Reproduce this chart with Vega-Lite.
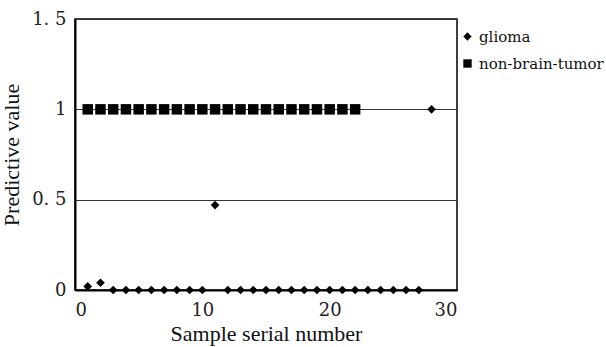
{
  "$schema": "https://vega.github.io/schema/vega-lite/v6.json",
  "width": 382,
  "height": 271,
  "autosize": {"type": "none"},
  "padding": {"left": 75, "top": 19, "right": 149, "bottom": 57},
  "background": "white",
  "config": {
    "font": "Liberation Serif",
    "view": {"stroke": "black", "strokeWidth": 1.5},
    "axis": {"titleFontWeight": "normal"}
  },
  "data": {
    "values": [
      {"sample": 1, "value": 1, "group": "non-brain-tumor"},
      {"sample": 2, "value": 1, "group": "non-brain-tumor"},
      {"sample": 3, "value": 1, "group": "non-brain-tumor"},
      {"sample": 4, "value": 1, "group": "non-brain-tumor"},
      {"sample": 5, "value": 1, "group": "non-brain-tumor"},
      {"sample": 6, "value": 1, "group": "non-brain-tumor"},
      {"sample": 7, "value": 1, "group": "non-brain-tumor"},
      {"sample": 8, "value": 1, "group": "non-brain-tumor"},
      {"sample": 9, "value": 1, "group": "non-brain-tumor"},
      {"sample": 10, "value": 1, "group": "non-brain-tumor"},
      {"sample": 11, "value": 1, "group": "non-brain-tumor"},
      {"sample": 12, "value": 1, "group": "non-brain-tumor"},
      {"sample": 13, "value": 1, "group": "non-brain-tumor"},
      {"sample": 14, "value": 1, "group": "non-brain-tumor"},
      {"sample": 15, "value": 1, "group": "non-brain-tumor"},
      {"sample": 16, "value": 1, "group": "non-brain-tumor"},
      {"sample": 17, "value": 1, "group": "non-brain-tumor"},
      {"sample": 18, "value": 1, "group": "non-brain-tumor"},
      {"sample": 19, "value": 1, "group": "non-brain-tumor"},
      {"sample": 20, "value": 1, "group": "non-brain-tumor"},
      {"sample": 21, "value": 1, "group": "non-brain-tumor"},
      {"sample": 22, "value": 1, "group": "non-brain-tumor"},
      {"sample": 1, "value": 0.02, "group": "glioma"},
      {"sample": 2, "value": 0.04, "group": "glioma"},
      {"sample": 3, "value": 0, "group": "glioma"},
      {"sample": 4, "value": 0, "group": "glioma"},
      {"sample": 5, "value": 0, "group": "glioma"},
      {"sample": 6, "value": 0, "group": "glioma"},
      {"sample": 7, "value": 0, "group": "glioma"},
      {"sample": 8, "value": 0, "group": "glioma"},
      {"sample": 9, "value": 0, "group": "glioma"},
      {"sample": 10, "value": 0, "group": "glioma"},
      {"sample": 11, "value": 0.47, "group": "glioma"},
      {"sample": 12, "value": 0, "group": "glioma"},
      {"sample": 13, "value": 0, "group": "glioma"},
      {"sample": 14, "value": 0, "group": "glioma"},
      {"sample": 15, "value": 0, "group": "glioma"},
      {"sample": 16, "value": 0, "group": "glioma"},
      {"sample": 17, "value": 0, "group": "glioma"},
      {"sample": 18, "value": 0, "group": "glioma"},
      {"sample": 19, "value": 0, "group": "glioma"},
      {"sample": 20, "value": 0, "group": "glioma"},
      {"sample": 21, "value": 0, "group": "glioma"},
      {"sample": 22, "value": 0, "group": "glioma"},
      {"sample": 23, "value": 0, "group": "glioma"},
      {"sample": 24, "value": 0, "group": "glioma"},
      {"sample": 25, "value": 0, "group": "glioma"},
      {"sample": 26, "value": 0, "group": "glioma"},
      {"sample": 27, "value": 0, "group": "glioma"},
      {"sample": 28, "value": 1, "group": "glioma"}
    ]
  },
  "encoding": {
    "x": {
      "field": "sample", "type": "quantitative",
      "scale": {"domain": [0, 30], "nice": false, "zero": true},
      "axis": {
        "values": [0, 10, 20, 30], "grid": false, "ticks": false,
        "domainColor": "black", "domainWidth": 2,
        "labelFont": "DejaVu Serif", "titleFont": "Liberation Serif",
        "labelFontSize": 18, "labelColor": "#222", "labelPadding": 11,
        "title": "Sample serial number", "titleFontSize": 22, "titleColor": "#111", "titlePadding": 4
      }
    },
    "y": {
      "field": "value", "type": "quantitative",
      "scale": {"domain": [0, 1.5], "nice": false},
      "axis": {
        "values": [0, 0.5, 1, 1.5], "grid": true, "gridColor": "#333", "gridWidth": 1, "ticks": false,
        "domainColor": "black", "domainWidth": 2,
        "labelFont": "DejaVu Serif", "titleFont": "Liberation Serif",
        "labelExpr": "datum.value == 0.5 ? '0. 5' : datum.value == 1.5 ? '1. 5' : datum.value == 1 ? '1' : '0'",
        "labelFontSize": 18, "labelColor": "#222", "labelPadding": 9,
        "title": "Predictive value", "titleFontSize": 22, "titleColor": "#111", "titlePadding": 8
      }
    },
    "shape": {
      "field": "group", "type": "nominal",
      "scale": {"domain": ["glioma", "non-brain-tumor"], "range": ["diamond", "square"]},
      "legend": {
        "title": null, "orient": "none", "legendX": 385, "legendY": 10, "padding": 0,
        "labelFont": "DejaVu Serif", "labelFontSize": 15, "labelColor": "#111",
        "symbolSize": 70, "symbolFillColor": "black", "symbolStrokeColor": "black",
        "rowPadding": 11, "labelOffset": 4, "labelLimit": 200
      }
    },
    "color": {"value": "black"}
  },
  "layer": [
    {
      "transform": [{"filter": "datum.group == 'glioma'"}],
      "mark": {"type": "point", "filled": true, "opacity": 1, "clip": false, "size": 75}
    },
    {
      "transform": [{"filter": "datum.group == 'non-brain-tumor'"}],
      "mark": {"type": "point", "filled": true, "opacity": 1, "clip": false, "size": 110}
    }
  ]
}
